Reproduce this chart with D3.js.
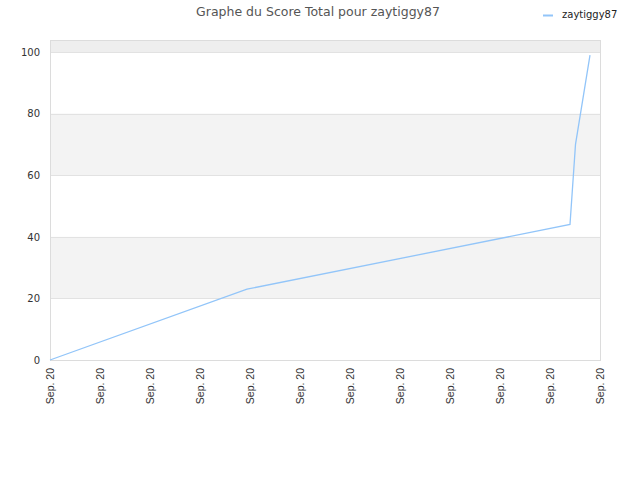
<!DOCTYPE html>
<html>
<head>
<meta charset="utf-8">
<script src="https://cdn.jsdelivr.net/npm/d3@7"></script>
<style>
  body { margin: 0; background: #fff; }
  svg { display: block; }
</style>
</head>
<body>
<svg id="chart" width="640" height="480"></svg>
<script>
// data (x = hours on Sep. 20, y = total score)
const seriesName = "zaytiggy87";
const hours = [0, 3.94, 10.4, 10.51, 10.8];
const scores = [0, 23, 44, 70, 99];
const xTicks = [0, 1, 2, 3, 4, 5, 6, 7, 8, 9, 10, 11];
const xTickLabel = "Sep. 20";
const yTicks = [0, 20, 40, 60, 80, 100];

const svg = d3.select("#chart");
const margin = { left: 50, right: 40, top: 40, bottom: 120 };
const w = 640 - margin.left - margin.right;
const h = 480 - margin.top - margin.bottom;

const x = d3.scaleLinear().domain([0, 11]).range([0, w]);
const y = d3.scaleLinear().domain([0, 103.9]).range([h, 0]);

const g = svg.append("g").attr("transform", `translate(${margin.left},${margin.top})`);

// alternating bands
const bands = [[20, 40], [60, 80], [100, 103.9]];
g.selectAll("rect.band")
	.data(bands)
	.enter()
	.append("rect")
	.attr("x", 0)
	.attr("width", w)
	.attr("y", (d) => y(d[1]))
	.attr("height", (d) => y(d[0]) - y(d[1]))
	.attr("fill", (d) => (d[0] === 100 ? "#eeeeee" : "#f3f3f3"));

// grid lines
g.selectAll("line.grid")
	.data(yTicks)
	.enter()
	.append("line")
	.attr("x1", 0)
	.attr("x2", w)
	.attr("y1", (d) => Math.round(y(d)) + 0.5)
	.attr("y2", (d) => Math.round(y(d)) + 0.5)
	.attr("stroke", "#e2e2e2")
	.attr("stroke-width", 1);

// frame
g.append("rect")
	.attr("x", 0.5)
	.attr("y", 0.5)
	.attr("width", w)
	.attr("height", h)
	.attr("fill", "none")
	.attr("stroke", "#dcdcdc")
	.attr("stroke-width", 1);

// y axis
const yAxis = g.append("g").call(d3.axisLeft(y).tickValues(yTicks).tickSize(0).tickPadding(10));
yAxis.select(".domain").remove();
yAxis.selectAll("text")
	.attr("font-family", "DejaVu Sans, sans-serif")
	.attr("font-size", "10px")
	.attr("fill", "#333");

// x axis
const xAxis = g
	.append("g")
	.attr("transform", `translate(0,${h})`)
	.call(d3.axisBottom(x).tickValues(xTicks).tickSize(0).tickFormat(() => xTickLabel));
xAxis.select(".domain").remove();
xAxis.selectAll("text")
	.attr("font-family", "Liberation Sans, Arial, sans-serif")
	.attr("font-size", "10.5px")
	.attr("fill", "#333")
	.attr("text-anchor", "end")
	.attr("transform", "rotate(-90)")
	.attr("x", -8)
	.attr("y", 0)
	.attr("dy", "0.35em");

// series line
const line = d3
	.line()
	.x((d, i) => x(hours[i]))
	.y((d) => y(d));
g.append("path")
	.datum(scores)
	.attr("d", line)
	.attr("fill", "none")
	.attr("stroke", "#92c5f9")
	.attr("stroke-width", 1.3);

// title
svg.append("text")
	.attr("x", 318)
	.attr("y", 16)
	.attr("text-anchor", "middle")
	.attr("font-family", "DejaVu Sans, sans-serif")
	.attr("font-size", "12.5px")
	.attr("fill", "#555")
	.text("Graphe du Score Total pour " + seriesName);

// legend
svg.append("line")
	.attr("x1", 543)
	.attr("x2", 553)
	.attr("y1", 15.5)
	.attr("y2", 15.5)
	.attr("stroke", "#92c5f9")
	.attr("stroke-width", 2);
svg.append("text")
	.attr("x", 562)
	.attr("y", 18)
	.attr("font-family", "DejaVu Sans, sans-serif")
	.attr("font-size", "10px")
	.attr("fill", "#222")
	.text(seriesName);
</script>
</body>
</html>
